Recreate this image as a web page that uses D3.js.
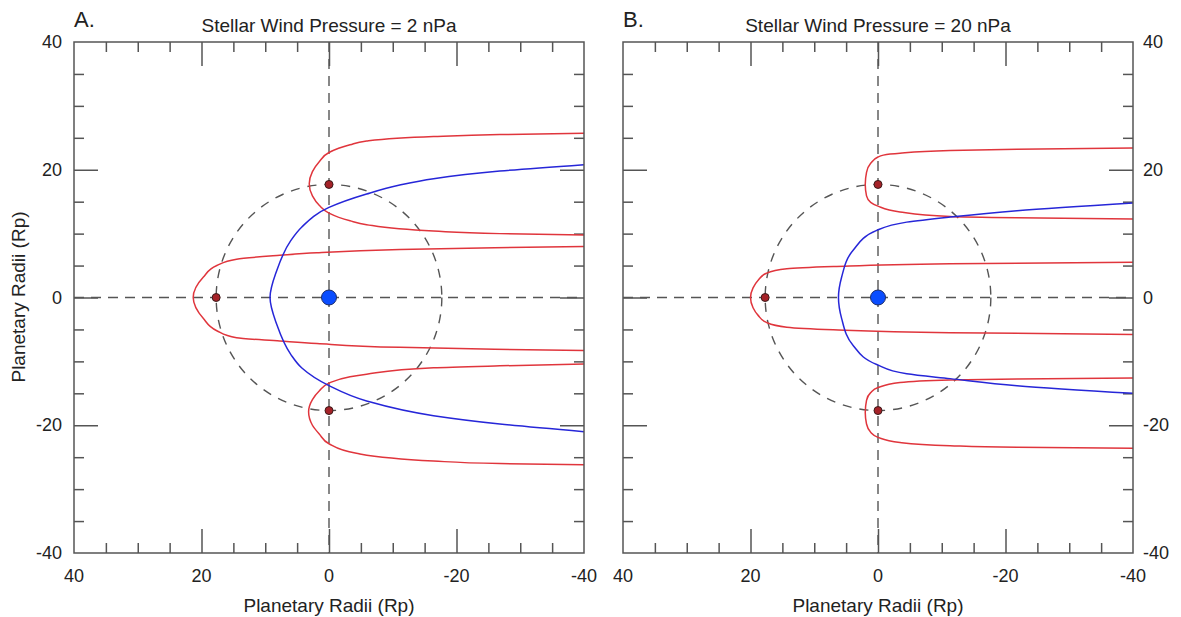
<!DOCTYPE html>
<html>
<head>
  <meta charset="utf-8">
  <script src="https://d3js.org/d3.v7.min.js"></script>
  <style>
    body { margin: 0; background: #fff; }
    svg text { font-family: "Liberation Sans", Arial, Helvetica, sans-serif; fill: #222; }
    .frame { fill: none; stroke: #555; stroke-width: 1.5px; }
    .tick-axis .domain { display: none; }
    .tick-axis line { stroke: #555; stroke-width: 1.5px; }
    .guide { fill: none; stroke: #555; stroke-width: 1.4px; stroke-dasharray: 10 7; }
    .field { fill: none; stroke-width: 1.5px; }
  </style>
</head>
<body>
  <svg id="chart" width="1181" height="617"></svg>

  <script>
    // values (planetary radii)
    const panelLabels = ["A.", "B."];
    const pressures = [2, 20];
    const labelTicks = [40, 20, 0, -20, -40];
    const minorTicks = [35, 30, 25, 15, 10, 5, -5, -10, -15, -25, -30, -35];
    const majorTicks = [20, 0, -20];
    const orbitRadius = 17.7;
    const moons = [[17.7, 0], [0, 17.7], [0, -17.7]];

    // panel A (2 nPa), each curve listed from its upper far end to its lower far end
    const redTopA = [[-40, 25.7], [-26.8, 25.5], [-16.4, 25.2], [-5.9, 24.5], [-3.3, 23.9], [0, 22.7], [1.5, 21.3], [2.6, 19.7], [3.1, 17.8], [2.6, 15.9], [1.5, 14.4], [0, 13.2], [-3.3, 12.0], [-5.9, 11.4], [-16.4, 10.4], [-26.8, 10.0], [-40, 9.8]];
    const redMidA = [[-40, 8.0], [-26, 7.8], [-11.1, 7.5], [1.9, 7.0], [7.7, 6.6], [14.5, 6.0], [17.6, 5.0], [19.7, 3.2], [21.3, 0], [19.7, -3.3], [17.6, -5.2], [14.5, -6.3], [7.7, -6.8], [1.9, -7.2], [-11.1, -7.8], [-26, -8.1], [-40, -8.3]];
    const redBotA = [[-40, -10.4], [-26.8, -10.7], [-16.4, -11.0], [-5.9, -12.0], [-3.3, -12.4], [0, -13.4], [1.5, -14.6], [2.6, -16.0], [3.2, -17.9], [2.6, -20.0], [1.5, -21.4], [0, -22.9], [-4.3, -24.4], [-16.4, -25.6], [-26.8, -26.0], [-40, -26.2]];
    const blueA = [[-40, 20.8], [-26.8, 19.8], [-16.4, 18.6], [-11.1, 17.6], [-5.9, 16.2], [0, 14.1], [4.3, 11.0], [6.0, 8.9], [8.2, 4.2], [9.25, 0], [8.2, -4.2], [6.0, -8.9], [4.3, -11.0], [0, -13.8], [-5.9, -16.2], [-16.4, -18.5], [-26.8, -19.8], [-40, -21.0]];

    // panel B (20 nPa)
    const redTopB = [[-40, 23.4], [-21.8, 23.2], [-11.3, 23.0], [-3.45, 22.6], [-1.9, 22.45], [0, 22.0], [1.15, 21.0], [1.8, 19.6], [2.0, 17.7], [1.8, 15.9], [1.15, 14.9], [0, 14.3], [-3.45, 13.4], [-11.3, 12.7], [-21.8, 12.5], [-40, 12.3]];
    const redMidB = [[-40, 5.5], [-11.3, 5.3], [7.0, 4.85], [14.3, 4.5], [17.5, 3.8], [18.8, 2.7], [19.6, 1.5], [20.0, 0], [19.6, -1.6], [18.8, -2.8], [17.5, -3.9], [14.3, -4.65], [7.0, -5.05], [-11.3, -5.5], [-40, -5.8]];
    const redBotB = [[-40, -12.6], [-21.8, -12.75], [-11.3, -12.9], [-3.45, -13.3], [0, -14.1], [1.15, -14.9], [1.8, -16.1], [2.0, -18.0], [1.8, -19.8], [1.15, -21.1], [0, -21.9], [-3.45, -22.7], [-11.3, -23.2], [-21.8, -23.45], [-40, -23.6]];
    const blueB = [[-40, 14.8], [-21.8, 13.6], [-11.3, 12.6], [-4.5, 11.8], [0.2, 10.5], [3.9, 7.4], [5.7, 3.2], [6.2, 0], [5.7, -3.3], [3.9, -7.5], [0.2, -10.5], [-4.5, -11.95], [-11.3, -12.7], [-21.8, -13.8], [-40, -15.0]];

    const redCurves = [[redTopA, redMidA, redBotA], [redTopB, redMidB, redBotB]];
    const blueCurves = [blueA, blueB];

    const svg = d3.select("svg#chart");
    const panelLeft = [74, 623];
    const panelTop = 42, size = 510;

    svg.append("defs").append("clipPath").attr("id", "panelClip")
      .append("rect").attr("x", 0).attr("y", 0).attr("width", size).attr("height", size + 1);

    panelLeft.forEach((left, i) => {
      const xScale = d3.scaleLinear().domain([40, -40]).range([0, size]);
      const yScale = d3.scaleLinear().domain([40, -40]).range([0, size + 1]);
      const g = svg.append("g").attr("transform", `translate(${left},${panelTop})`);

      // inward ticks on all four sides
      const tickSets = [[minorTicks, 10], [majorTicks, 24]];
      tickSets.forEach(([vals, len]) => {
        g.append("g").attr("class", "tick-axis").attr("transform", `translate(0,${size + 1})`)
          .call(d3.axisBottom(xScale).tickValues(vals).tickSize(-len).tickFormat(""));
        g.append("g").attr("class", "tick-axis")
          .call(d3.axisTop(xScale).tickValues(vals).tickSize(-len).tickFormat(""));
        g.append("g").attr("class", "tick-axis")
          .call(d3.axisLeft(yScale).tickValues(vals).tickSize(-len).tickFormat(""));
        g.append("g").attr("class", "tick-axis").attr("transform", `translate(${size},0)`)
          .call(d3.axisRight(yScale).tickValues(vals).tickSize(-len).tickFormat(""));
      });

      // tick labels
      g.selectAll("text.xlab").data(labelTicks).join("text").attr("class", "xlab")
        .attr("x", d => xScale(d)).attr("y", size + 30)
        .attr("text-anchor", "middle").style("font-size", "18px")
        .text(d => String(d));
      g.selectAll("text.ylab").data(labelTicks).join("text").attr("class", "ylab")
        .attr("x", i === 0 ? -12 : size + 10).attr("y", d => yScale(d) + 6)
        .attr("text-anchor", i === 0 ? "end" : "start").style("font-size", "18px")
        .text(d => String(d));

      g.append("text").attr("x", size / 2).attr("y", size + 60)
        .attr("text-anchor", "middle").style("font-size", "19px")
        .text("Planetary Radii (Rp)");

      g.append("text").attr("x", 0).attr("y", -15).style("font-size", "22px")
        .text(panelLabels[i]);
      g.append("text").attr("x", size / 2).attr("y", -10)
        .attr("text-anchor", "middle").style("font-size", "19px")
        .text(`Stellar Wind Pressure = ${pressures[i]} nPa`);

      const plot = g.append("g").attr("clip-path", "url(#panelClip)");

      // dashed guides
      plot.append("line").attr("class", "guide")
        .attr("x1", xScale(40)).attr("x2", xScale(-40)).attr("y1", yScale(0)).attr("y2", yScale(0));
      plot.append("line").attr("class", "guide")
        .attr("x1", xScale(0)).attr("x2", xScale(0)).attr("y1", yScale(40)).attr("y2", yScale(-40));
      plot.append("ellipse").attr("class", "guide").style("stroke-dasharray", "9 8")
        .attr("cx", xScale(0)).attr("cy", yScale(0))
        .attr("rx", xScale(0) - xScale(orbitRadius)).attr("ry", yScale(-orbitRadius) - yScale(0));

      // every curve runs monotonically downward, so x is interpolated as a function of y
      const line = d3.line().x(d => xScale(d[0])).y(d => yScale(d[1])).curve(d3.curveMonotoneY);

      plot.selectAll("path.red").data(redCurves[i]).join("path").attr("class", "field red")
        .attr("d", line).style("stroke", "#e0353c");
      plot.append("path").datum(blueCurves[i]).attr("class", "field")
        .attr("d", line).style("stroke", "#2626d8");

      plot.selectAll("circle.moon").data(moons).join("circle").attr("class", "moon")
        .attr("cx", d => xScale(d[0])).attr("cy", d => yScale(d[1])).attr("r", 4)
        .style("fill", "#a52228").style("stroke", "#3a1a1a").style("stroke-width", 1);
      plot.append("circle").attr("cx", xScale(0)).attr("cy", yScale(0)).attr("r", 7.5)
        .style("fill", "#0a4dff").style("stroke", "#1a2a66").style("stroke-width", 1);

      g.append("rect").attr("class", "frame").attr("width", size).attr("height", size + 1);
    });

    // shared y title
    svg.append("text").attr("transform", `translate(25,${panelTop + size / 2}) rotate(-90)`)
      .attr("text-anchor", "middle").style("font-size", "19px")
      .text("Planetary Radii (Rp)");
  </script>
</body>
</html>
